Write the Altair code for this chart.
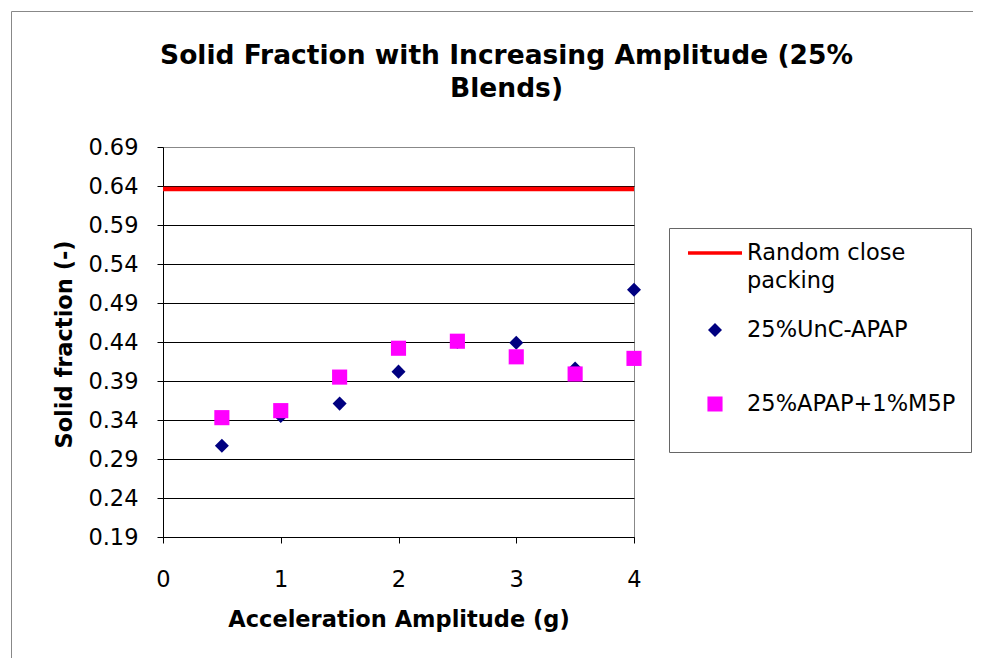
import altair as alt
import pandas as pd

# ---- data ----
amplitude = [0.5, 1.0, 1.5, 2.0, 2.5, 3.0, 3.5, 4.0]
unc_apap = [0.307, 0.345, 0.361, 0.402, 0.440, 0.439, 0.406, 0.507]
apap_m5p = [0.343, 0.352, 0.395, 0.432, 0.441, 0.421, 0.399, 0.419]
rcp_value = 0.636
rcp_x = [0.0, 4.0]

series_names = ["Random close packing", "25%UnC-APAP", "25%APAP+1%M5P"]
series_colors = ["#FF0000", "#000080", "#FF00FF"]
series_shapes = [
    "M-1,-0.065L1,-0.065L1,0.065L-1,0.065Z",
    "M0,-0.26L0.26,0L0,0.26L-0.26,0Z",
    "M-0.28,-0.28L0.28,-0.28L0.28,0.28L-0.28,0.28Z",
]

y_ticks = [0.19, 0.24, 0.29, 0.34, 0.39, 0.44, 0.49, 0.54, 0.59, 0.64, 0.69]
x_ticks = [0, 1, 2, 3, 4]
title_lines = ["Solid Fraction with Increasing Amplitude (25%", "Blends)"]
x_title = "Acceleration Amplitude (g)"
y_title = "Solid fraction (-)"

FONT = "DejaVu Sans"

points_df = pd.DataFrame(
    {
        "amp": amplitude + amplitude,
        "sf": unc_apap + apap_m5p,
        "series": [series_names[1]] * len(amplitude) + [series_names[2]] * len(amplitude),
    }
)
rule_df = pd.DataFrame({"x": [rcp_x[0]], "x2": [rcp_x[1]], "y": [rcp_value]})

xscale = alt.Scale(domain=[0, 4], nice=False, zero=False)
yscale = alt.Scale(domain=[0.19, 0.69], nice=False, zero=False)

xaxis = alt.Axis(
    values=x_ticks, format="d", tickSize=6, labelPadding=25, grid=False,
    labelFont=FONT, labelFontSize=22.5, labelColor="black",
    labelFlush=False, labelOverlap=False,
    domainColor="black", tickColor="black",
    title=x_title, titleFont=FONT, titleFontSize=22.5, titleFontWeight="bold",
    titleColor="black", titleY=71, titleBaseline="top",
)
yaxis = alt.Axis(
    values=y_ticks, format=".2f", tickSize=6, labelPadding=19, grid=True,
    gridColor=alt.condition("datum.value > 0.68", alt.value("#888888"), alt.value("black")),
    labelFont=FONT, labelFontSize=22.5, labelColor="black",
    labelFlush=False, labelOverlap=False,
    domainColor="black", tickColor="black",
    title=y_title, titleFont=FONT, titleFontSize=22.5, titleFontWeight="bold",
    titleColor="black", titleX=-92, titleY=197, titleAngle=270,
    titleAlign="center", titleBaseline="alphabetic",
)

legend = alt.Legend(
    orient="none", legendX=525, legendY=69, title=None, padding=0,
    symbolSize=2916, symbolStrokeWidth=0, symbolOpacity=1,
    clipHeight=74, rowPadding=0, labelOffset=5, labelLimit=400,
    labelFont=FONT, labelFontSize=22.5, labelColor="black",
    labelExpr="datum.label == 'Random close packing' ? ['Random close', 'packing'] : datum.label",
)

one_row = alt.Data(values=[{"k": 1}])

outer_frame = alt.Chart(one_row).mark_rect(
    filled=False, stroke="#888888", strokeWidth=1
).encode(
    x=alt.value(-151.5), x2=alt.value(900), y=alt.value(-135.5), y2=alt.value(700)
)

legend_box = alt.Chart(one_row).mark_rect(
    filled=False, stroke="#666666", strokeWidth=1
).encode(
    x=alt.value(506.5), x2=alt.value(808.5), y=alt.value(81.5), y2=alt.value(305.5)
)

rule = alt.Chart(rule_df).mark_rule(color="#FF0000", strokeWidth=4.5).encode(
    x=alt.X("x:Q", scale=xscale, axis=xaxis),
    x2="x2:Q",
    y=alt.Y("y:Q", scale=yscale, axis=yaxis),
)

pts = alt.Chart(points_df).mark_point(
    filled=True, size=2916, opacity=1, strokeWidth=0
).encode(
    x=alt.X("amp:Q", scale=xscale, axis=xaxis),
    y=alt.Y("sf:Q", scale=yscale, axis=yaxis),
    color=alt.Color("series:N", scale=alt.Scale(domain=series_names, range=series_colors), legend=legend),
    shape=alt.Shape("series:N", scale=alt.Scale(domain=series_names, range=series_shapes), legend=legend),
)

chart = (
    alt.layer(outer_frame, legend_box, rule, pts)
    .properties(
        width=471,
        height=390,
        autosize=alt.AutoSizeParams(type="none"),
        padding={"left": 155, "top": 139, "right": 339, "bottom": 121},
        title=alt.Title(
            text=title_lines, font=FONT, fontSize=26.5, fontWeight="bold",
            color="black", anchor="middle", dx=108, dy=95, lineHeight=33,
        ),
    )
    .configure(
        background="white",
        view=alt.ViewConfig(stroke="#888888", strokeWidth=1),
        style={"guide-label": {"lineHeight": 28}},
    )
)

chart.save("out.html", embed_options={"renderer": "svg", "actions": False})
